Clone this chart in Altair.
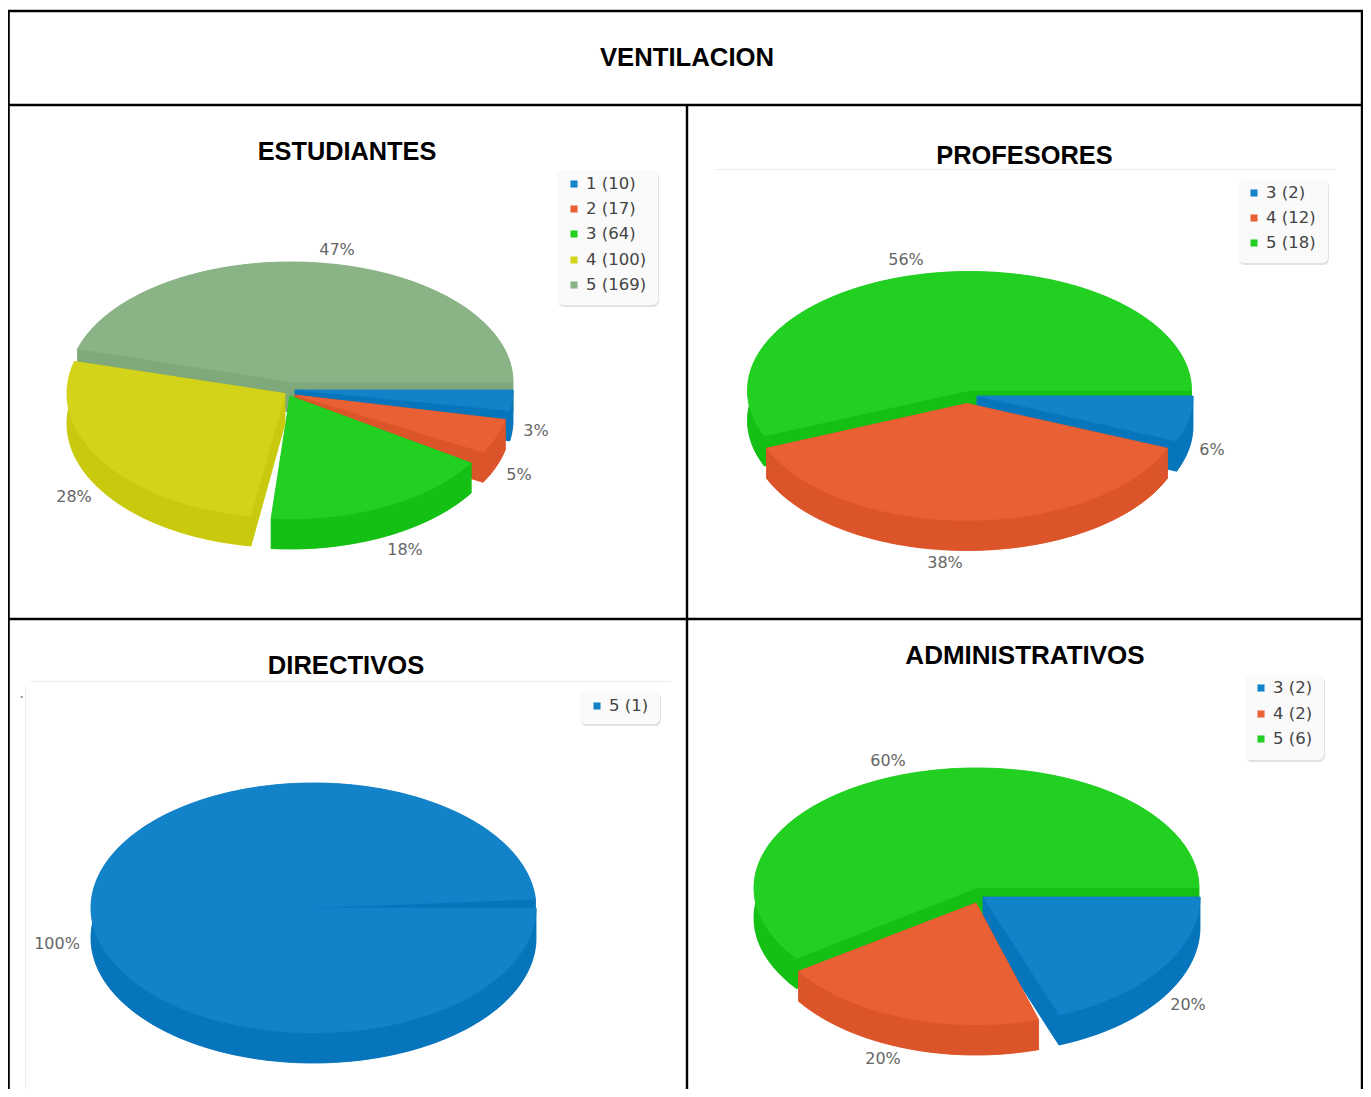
import math
import altair as alt
import pandas as pd

# ---------- data ----------
MAIN_TITLE = "VENTILACION"
PANELS = ["ESTUDIANTES", "PROFESORES", "DIRECTIVOS", "ADMINISTRATIVOS"]
CATS_ESTUDIANTES = ["1", "2", "3", "4", "5"]
VALS_ESTUDIANTES = [10, 17, 64, 100, 169]
CATS_PROFESORES = ["3", "4", "5"]
VALS_PROFESORES = [2, 12, 18]
CATS_DIRECTIVOS = ["5"]
VALS_DIRECTIVOS = [1]
CATS_ADMIN = ["3", "4", "5"]
VALS_ADMIN = [2, 2, 6]

# ---------- styles ----------
TOP = ["#1282C9", "#E86033", "#22D022", "#D3D41A", "#8AB386"]
SIDE = ["#0675BC", "#DC5429", "#14C014", "#C9CA0E", "#7FA97B"]
DEPTH = 30
W, H = 1355, 1081

# Layout for each panel. For every slice: centre x, centre y, radius x, radius y,
# and small corrections (degrees) to the start / end angle given by the values.
LAYOUT = {
    "ESTUDIANTES": dict(
        title=(347, 152), title_size=25.3,
        slices=[(295, 390, 218, 120, 0, 0), (295, 395, 215, 118, 2, 2), (290, 396, 216, 123, 6, 4),
                (285, 393.5, 218, 124, 8, 4), (291, 382, 222, 120, 5, 0)],
        pct=[(536, 431), (519, 475), (405, 550), (74, 497), (337, 250)],
        box=(557, 170, 658, 305), mark_x=574, text_x=586, rows=[184, 209, 234, 260, 285]),
    "PROFESORES": dict(
        title=(1024.5, 156), title_size=25.4,
        slices=[(977, 396, 216, 118, 0, 0), (967, 403.5, 217, 117, 0, 0), (969.5, 390.5, 222, 119, 0, 0)],
        pct=[(1212, 450), (945, 563), (906, 260)],
        box=(1238, 180, 1328, 263), mark_x=1254, text_x=1266, rows=[193, 218, 243]),
    "DIRECTIVOS": dict(
        title=(346, 666), title_size=25.6,
        slices=[(313.5, 908, 222.5, 125, 0, -4)],
        pct=[(57, 944)],
        box=(580, 691, 660, 724), mark_x=597, text_x=609, rows=[706]),
    "ADMINISTRATIVOS": dict(
        title=(1025, 656), title_size=26,
        slices=[(983, 897, 217, 126, 0, -2.5), (976, 903, 214, 122, 1, 2), (976.5, 888, 222.5, 120, 0, 0)],
        pct=[(1188, 1005), (883, 1059), (888, 761)],
        box=(1245, 675, 1324, 760), mark_x=1261, text_x=1273, rows=[688, 714, 739]),
}
SERIES = {
    "ESTUDIANTES": (CATS_ESTUDIANTES, VALS_ESTUDIANTES),
    "PROFESORES": (CATS_PROFESORES, VALS_PROFESORES),
    "DIRECTIVOS": (CATS_DIRECTIVOS, VALS_DIRECTIVOS),
    "ADMINISTRATIVOS": (CATS_ADMIN, VALS_ADMIN),
}


def arc(cx, cy, rx, ry, a, b):
    n = max(2, int(abs(b - a) / 1.5) + 1)
    pts = []
    for i in range(n + 1):
        t = math.radians(a + (b - a) * i / n)
        pts.append([cx + rx * math.cos(t), cy + ry * math.sin(t)])
    return pts


def feature(points, colour):
    ring = points + [points[0]]
    return {"type": "Feature", "properties": {"fill": colour},
            "geometry": {"type": "Polygon", "coordinates": [ring]}}


features, pct_rows, leg_rows, mark_rows, box_rows = [], [], [], [], []
for name in PANELS:
    cats, vals = SERIES[name]
    lay = LAYOUT[name]
    total = sum(vals)
    edges = [0]
    for v in vals:
        edges.append(edges[-1] + v / total * 360)
    pieces = []
    for i, v in enumerate(vals):
        cx, cy, rx, ry, d0, d1 = lay["slices"][i]
        a, b = edges[i] + d0, edges[i + 1] + d1
        top_arc = arc(cx, cy, rx, ry, a, b)
        low_arc = [[x, y + DEPTH] for x, y in top_arc]
        apex, apex_low = [cx, cy], [cx, cy + DEPTH]
        group = [
            feature([apex_low] + low_arc, SIDE[i]),
            feature(top_arc + low_arc[::-1], SIDE[i]),
            feature([apex, top_arc[0], low_arc[0], apex_low], SIDE[i]),
            feature([apex, top_arc[-1], low_arc[-1], apex_low], SIDE[i]),
            feature([apex] + top_arc, TOP[i]),
        ]
        pieces.append(group)
        px, py = lay["pct"][i]
        pct_rows.append({"x": px, "y": py, "label": f"{round(v / total * 100)}%"})
        leg_rows.append({"x": lay["text_x"], "y": lay["rows"][i], "label": f"{cats[i]} ({v})"})
        mark_rows.append({"x": lay["mark_x"], "y": lay["rows"][i], "c": TOP[i]})
    # the last slice lies at the back; the others are painted over it in order
    for group in [pieces[-1]] + pieces[:-1]:
        features.extend(group)
    x0, y0, x1, y1 = lay["box"]
    box_rows.append({"x": x0, "x2": x1, "y": y0, "y2": y1})

X = alt.X("x:Q", scale=alt.Scale(domain=[8, 8 + W], range=[0, W], nice=False, zero=False), axis=None)
Y = alt.Y("y:Q", scale=alt.Scale(domain=[8, 8 + H], range=[0, H], nice=False, zero=False), axis=None)

# table lines
grid = pd.DataFrame([
    {"x": 5, "x2": 1363, "y": 11, "y2": 11},
    {"x": 5, "x2": 1363, "y": 105, "y2": 105},
    {"x": 5, "x2": 1363, "y": 619, "y2": 619},
    {"x": 8.6, "x2": 8.6, "y": 10, "y2": 1097},
    {"x": 687, "x2": 687, "y": 105, "y2": 1097},
    {"x": 1362, "x2": 1362, "y": 10, "y2": 1097},
])
faint = pd.DataFrame([
    {"x": 715, "x2": 1336, "y": 169.5, "y2": 169.5},
    {"x": 31, "x2": 671, "y": 681.5, "y2": 681.5},
    {"x": 25.5, "x2": 25.5, "y": 687, "y2": 1097},
])
dash = pd.DataFrame([{"x": 20.5, "x2": 23, "y": 697, "y2": 697}])

rule_enc = dict(x=X, x2="x2:Q", y=Y, y2="y2:Q")
grid_l = alt.Chart(grid).mark_rule(color="#000000", strokeWidth=2.4).encode(**rule_enc)
faint_l = alt.Chart(faint).mark_rule(color="#EDEDED", strokeWidth=1).encode(**rule_enc)
dash_l = alt.Chart(dash).mark_rule(color="#555555", strokeWidth=1).encode(**rule_enc)

boxes = pd.DataFrame(box_rows)
shadow = pd.DataFrame([{**b, "x": b["x"] + 1, "x2": b["x2"] + 1, "y": b["y"] + 1, "y2": b["y2"] + 2}
                       for b in box_rows])
shadow_l = alt.Chart(shadow).mark_rect(color="#E2E2E2", cornerRadius=6).encode(**rule_enc)
box_l = alt.Chart(boxes).mark_rect(color="#FAFAFA", cornerRadius=6).encode(**rule_enc)
marks_l = alt.Chart(pd.DataFrame(mark_rows)).mark_square(size=50, filled=True, opacity=1).encode(
    x=X, y=Y, color=alt.Color("c:N", scale=None))

pies = alt.Chart(alt.InlineData(values=features)).mark_geoshape(strokeWidth=0.5).encode(
    fill=alt.Fill("properties.fill:N", scale=None),
    stroke=alt.Stroke("properties.fill:N", scale=None),
).project(type="identity", scale=1, translate=[-8, -8])

pct_l = alt.Chart(pd.DataFrame(pct_rows)).mark_text(
    font="DejaVu Sans", fontSize=16, color="#666666", align="center", baseline="middle"
).encode(x=X, y=Y, text="label:N")
leg_l = alt.Chart(pd.DataFrame(leg_rows)).mark_text(
    font="DejaVu Sans", fontSize=16.5, color="#444444", align="left", baseline="middle"
).encode(x=X, y=Y, text="label:N")

title_rows = [{"x": 687, "y": 58, "label": MAIN_TITLE, "s": 25.7}] + [
    {"x": LAYOUT[n]["title"][0], "y": LAYOUT[n]["title"][1], "label": n, "s": LAYOUT[n]["title_size"]}
    for n in PANELS]
title_l = alt.Chart(pd.DataFrame(title_rows)).mark_text(
    font="Liberation Sans", fontWeight="bold", color="#000000",
    align="center", baseline="middle"
).encode(x=X, y=Y, text="label:N", size=alt.Size("s:Q", scale=None, legend=None))

chart = alt.layer(
    faint_l, dash_l, grid_l, shadow_l, box_l, marks_l, pies, pct_l, leg_l, title_l
).properties(
    width=W, height=H, padding=0, background="#FFFFFF",
    autosize=alt.AutoSizeParams(type="none"),
).configure_view(stroke=None)

chart.save("out.html", embed_options={"renderer": "svg", "actions": False})
